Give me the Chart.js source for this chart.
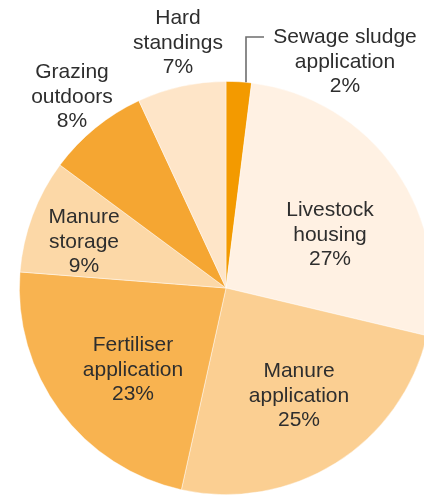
<!DOCTYPE html>
<html>
<head>
<meta charset="utf-8">
<script src="https://cdn.jsdelivr.net/npm/chart.js@4/dist/chart.umd.min.js"></script>
<style>
  html, body { margin: 0; padding: 0; background: #fff; overflow: hidden; }
  #wrap { position: absolute; left: 0; top: 0; width: 440px; height: 500px; }
</style>
</head>
<body>
<div id="wrap"><canvas id="chart" width="440" height="500"></canvas></div>
<script>
// Sources of emissions, clockwise from 12 o'clock
const categories = [
  'Sewage sludge application',
  'Livestock housing',
  'Manure application',
  'Fertiliser application',
  'Manure storage',
  'Grazing outdoors',
  'Hard standings'
];
const shares = [2, 27, 25, 23, 9, 8, 7];

const sliceColors = ['#F39A00', '#FFF1E3', '#FBCF92', '#F8B350', '#FCD8A7', '#F5A632', '#FEE5C8'];

// where each label block sits, relative to the pie centre (middle line)
const labelOffsets = [
  [119, -226],
  [104, -53],
  [73, 108],
  [-93, 82],
  [-142, -46],
  [-154, -191],
  [-48, -245]
];

const labelPlugin = {
  id: 'sliceLabels',
  afterDraw(chart) {
    const ctx = chart.ctx;
    const meta = chart.getDatasetMeta(0);
    const first = meta.data[0];
    const cx = first.x, cy = first.y, r = first.outerRadius;

    ctx.save();
    ctx.font = '21px "Liberation Sans", Arial, sans-serif';
    ctx.fillStyle = '#2e2e2e';
    ctx.textAlign = 'center';
    ctx.textBaseline = 'middle';
    const lh = 24.5;

    categories.forEach((name, i) => {
      const cut = name.lastIndexOf(' ');
      const lines = [name.slice(0, cut), name.slice(cut + 1), shares[i] + '%'];
      const x = cx + labelOffsets[i][0];
      const y = cy + labelOffsets[i][1];
      lines.forEach((ln, k) => ctx.fillText(ln, x, y + (k - 1) * lh));
    });

    // leader line for the small sewage slice
    const lx = cx + 20;
    const ly0 = cy - Math.sqrt(r * r - 20 * 20);
    ctx.strokeStyle = '#6e6e6e';
    ctx.lineWidth = 1.6;
    ctx.beginPath();
    ctx.moveTo(lx, ly0);
    ctx.lineTo(lx, cy - 251);
    ctx.lineTo(lx + 18, cy - 251);
    ctx.stroke();
    ctx.restore();
  }
};

new Chart(document.getElementById('chart'), {
  type: 'pie',
  data: {
    labels: categories,
    datasets: [{
      data: shares,
      backgroundColor: sliceColors,
      borderColor: 'rgba(255,255,255,0.55)',
      borderWidth: 0.8
    }]
  },
  options: {
    responsive: false,
    animation: false,
    layout: { padding: { left: 19, top: 81, right: 7, bottom: 5 } },
    plugins: {
      legend: { display: false },
      tooltip: { enabled: false }
    }
  },
  plugins: [labelPlugin]
});
</script>
</body>
</html>
